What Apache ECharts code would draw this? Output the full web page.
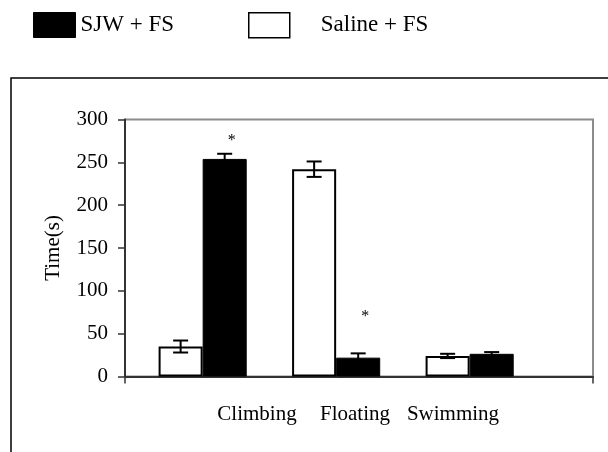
<!DOCTYPE html>
<html>
<head>
<meta charset="utf-8">
<script src="https://cdn.jsdelivr.net/npm/echarts@6/dist/echarts.min.js"></script>
<style>
html,body{margin:0;padding:0;background:#fff;}
#chart{width:608px;height:452px;}
</style>
</head>
<body>
<div id="chart"></div>
<script>
const categories = ['Climbing', 'Floating', 'Swimming'];
const salineMean = [35, 242, 24];
const salineErr = [7, 9, 2.5];
const sjwMean = [254, 22, 26.5];
const sjwErr = [6, 5, 2];
const sjwStarY = [275, 70, null];
const yMin = 0, yMax = 300, yStep = 50;
const yName = 'Time(s)';
const seriesNames = ['SJW + FS', 'Saline + FS'];

const FONT = '"Liberation Serif", "Times New Roman", serif';
const chart = echarts.init(document.getElementById('chart'), null, {renderer: 'canvas'});

function errRender(sign) {
  return function (params, api) {
    const i = api.value(0), m = api.value(1), e = api.value(2);
    const band = api.size([1, 0])[0];
    const xc = api.coord([i, 0])[0] + sign * band * 0.165;
    const yT = api.coord([i, m + e])[1];
    const yB = api.coord([i, m - e])[1];
    const cw = 7.5;
    const st = {stroke: '#000', lineWidth: 2};
    return {type: 'group', children: [
      {type: 'line', shape: {x1: xc, y1: yT, x2: xc, y2: yB}, style: st},
      {type: 'line', shape: {x1: xc - cw, y1: yT, x2: xc + cw, y2: yT}, style: st},
      {type: 'line', shape: {x1: xc - cw, y1: yB, x2: xc + cw, y2: yB}, style: st}
    ]};
  };
}

function starRender(params, api) {
  const i = api.value(0), v = api.value(1);
  const band = api.size([1, 0])[0];
  const p = api.coord([i, v]);
  return {type: 'text', x: p[0] + band * 0.165 + 7, y: p[1],
    style: {text: '*', fill: '#000', font: '16px ' + FONT, textAlign: 'center', textVerticalAlign: 'middle'}};
}

const option = {
  animation: false,
  backgroundColor: '#fff',
  graphic: [{
    type: 'rect', shape: {x: 11, y: 78, width: 1000, height: 1000},
    style: {fill: 'none', stroke: '#000', lineWidth: 1.5}, z: -1
  }],
  legend: [{
    left: 33, top: 12, padding: 0, itemWidth: 42, itemHeight: 25, selectedMode: false, icon: 'rect',
    data: [{name: seriesNames[0], icon: 'rect', itemStyle: {color: '#000', borderColor: '#000', borderWidth: 1}}],
    textStyle: {fontFamily: FONT, fontSize: 23, color: '#000'}
  }, {
    left: 248, top: 12, padding: 0, itemWidth: 41, itemHeight: 25, selectedMode: false, icon: 'rect',
    data: [{name: seriesNames[1], icon: 'rect', itemStyle: {color: '#fff', borderColor: '#000', borderWidth: 1.5}}],
    textStyle: {fontFamily: FONT, fontSize: 23, color: '#000', padding: [0, 0, 0, 26]}
  }],
  grid: [
    {left: 125, top: 119.5, width: 468, height: 257, show: true, borderColor: '#8c8c8c', borderWidth: 2, backgroundColor: 'transparent'},
    {left: 135.9, top: 119.5, width: 400.5, height: 257},
    {left: 208, top: 119.5, width: 294, height: 257}
  ],
  xAxis: [
    {gridIndex: 0, type: 'value', min: 0, max: 1, interval: 1,
      axisLine: {show: true, lineStyle: {color: '#333', width: 2}},
      axisTick: {show: true, length: 7, lineStyle: {color: '#333', width: 1.5}},
      axisLabel: {show: false}, splitLine: {show: false}},
    {gridIndex: 1, type: 'category', data: categories,
      axisLine: {show: false}, axisTick: {show: false}, axisLabel: {show: false}},
    {gridIndex: 2, type: 'category', data: categories,
      axisLine: {show: false}, axisTick: {show: false},
      axisLabel: {show: true, interval: 0, margin: 27, fontFamily: FONT, fontSize: 21, color: '#000'}}
  ],
  yAxis: [
    {gridIndex: 0, type: 'value', min: yMin, max: yMax, interval: yStep,
      name: yName, nameLocation: 'middle', nameGap: 61, nameRotate: 90,
      nameTextStyle: {fontFamily: FONT, fontSize: 21, color: '#000'},
      axisLine: {show: true, lineStyle: {color: '#333', width: 2}},
      axisTick: {show: true, length: 7, lineStyle: {color: '#333', width: 1.5}},
      axisLabel: {margin: 17, fontFamily: FONT, fontSize: 21, color: '#000'},
      splitLine: {show: false}},
    {gridIndex: 1, type: 'value', min: yMin, max: yMax, show: false, splitLine: {show: false}},
    {gridIndex: 2, type: 'value', min: yMin, max: yMax, show: false, splitLine: {show: false}}
  ],
  series: [
    {name: seriesNames[1], type: 'bar', xAxisIndex: 1, yAxisIndex: 1, data: salineMean,
      barGap: '0%', barCategoryGap: '34%',
      itemStyle: {color: '#fff', borderColor: '#000', borderWidth: 2}},
    {name: seriesNames[0], type: 'bar', xAxisIndex: 1, yAxisIndex: 1, data: sjwMean,
      barGap: '0%', barCategoryGap: '34%',
      itemStyle: {color: '#000', borderColor: '#000', borderWidth: 1}},
    {type: 'custom', xAxisIndex: 1, yAxisIndex: 1, z: 5, renderItem: errRender(-1),
      encode: {x: 0, y: 1},
      data: categories.map((c, i) => [i, salineMean[i], salineErr[i]])},
    {type: 'custom', xAxisIndex: 1, yAxisIndex: 1, z: 5, renderItem: errRender(1),
      encode: {x: 0, y: 1},
      data: categories.map((c, i) => [i, sjwMean[i], sjwErr[i]])},
    {type: 'custom', xAxisIndex: 1, yAxisIndex: 1, z: 6, renderItem: starRender,
      encode: {x: 0, y: 1},
      data: sjwStarY.map((v, i) => [i, v]).filter(d => d[1] != null)}
  ]
};
chart.setOption(option);
</script>
</body>
</html>
